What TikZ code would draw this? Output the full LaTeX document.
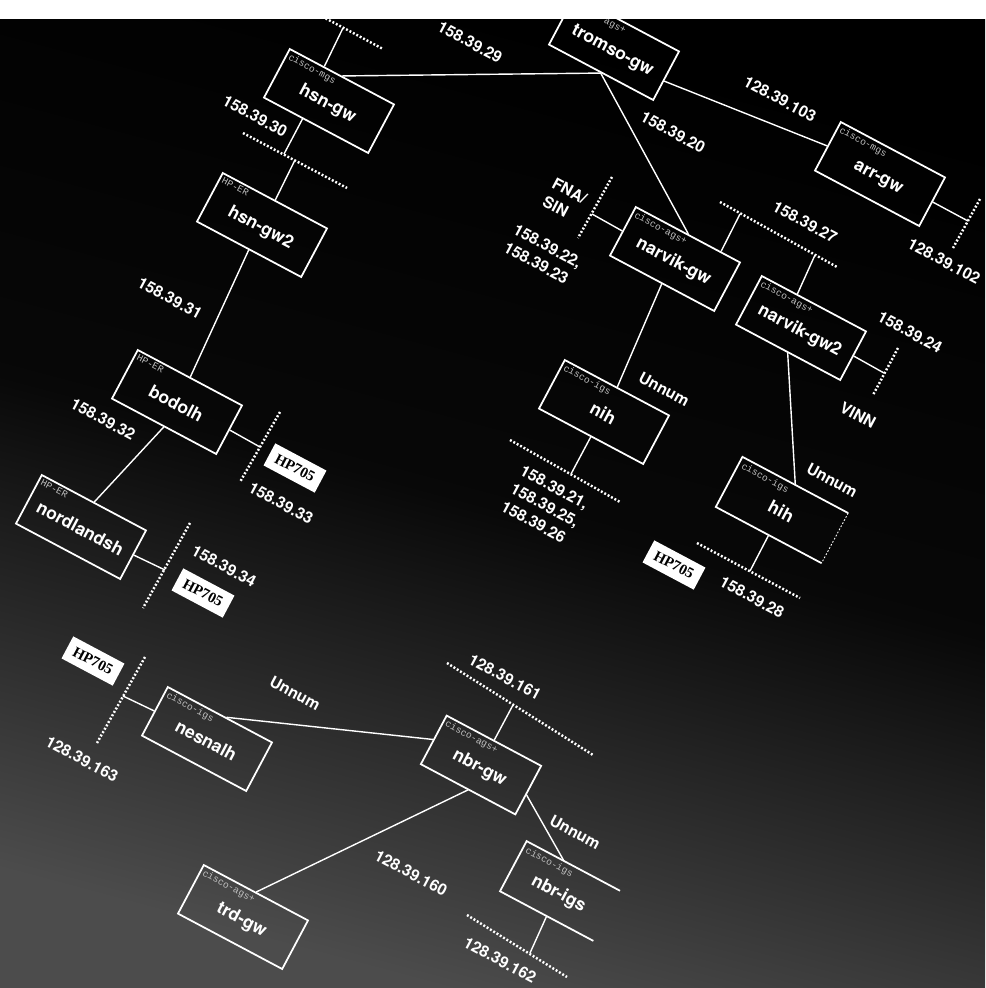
\documentclass[tikz,border=0pt]{standalone}
\usepackage{fontspec}
\setmainfont{TeX Gyre Heros}
\newfontfamily\typefont{Liberation Mono}
\newfontfamily\hpfont{Liberation Serif}
\usetikzlibrary{calc}

\begin{document}
\begin{tikzpicture}[x=0.2mm,y=-0.2mm,
  router/.style={draw=white,line width=1pt,rotate=-28,minimum width=23.6mm,minimum height=11mm,
    inner sep=0pt,text height=10pt,text depth=1pt,text=white,font=\fontsize{10}{12}\selectfont\bfseries},
  kind/.style={anchor=north west,rotate=-28,inner sep=2pt,text=white!75!black,
    font=\typefont\fontsize{5.5}{6}\selectfont},
  addr/.style={rotate=-28,text=white,inner sep=0pt,align=left,
    font=\fontsize{9}{11.5}\selectfont\bfseries},
  hp/.style={fill=white,rotate=-28,minimum width=11.6mm,minimum height=5mm,inner sep=0pt,
    font=\hpfont\bfseries\fontsize{8.5}{9}\selectfont},
  link/.style={white,line width=0.8pt},
  lan/.style={white,line width=1.4pt,dash pattern=on 1.1pt off 1.1pt}]
\useasboundingbox (0,0) rectangle (985,988);
\fill[white] (0,0) rectangle (985,988);
\shade[top color=black,bottom color=black!70!white,middle color=black!97!white,shading angle=-15]
  (0,19) rectangle (985,988);

\begin{scope}
\clip (0,19) rectangle (985,988);

% routers
\node[router,label={[kind]north west:cisco-mgs}] (hsn) at (329,101) {hsn-gw};
\node[router,label={[kind]north west:HP-ER}] (hsntwo) at (262,225) {hsn-gw2};
\node[router,label={[kind]north west:HP-ER}] (bodolh) at (177,402) {bodolh};
\node[router,label={[kind]north west:HP-ER}] (nordlandsh) at (81,527) {nordlandsh};
\node[router,label={[kind]north west:cisco-ags+}] (tromso) at (614,48) {tromso-gw};
\node[router,label={[kind]north west:cisco-mgs}] (arr) at (880,174) {arr-gw};
\node[router,label={[kind]north west:cisco-ags+}] (narvik) at (675,259) {narvik-gw};
\node[router,label={[kind]north west:cisco-ags+}] (narviktwo) at (801,328) {narvik-gw2};
\node[router,label={[kind]north west:cisco-igs}] (nih) at (604,412) {nih};
\node[router,draw=none,label={[kind]north west:cisco-igs}] (hih) at (782,510) {hih};
\node[router,label={[kind]north west:cisco-igs}] (nesnalh) at (207,739) {nesnalh};
\node[router,minimum width=21.4mm,label={[kind]north west:cisco-ags+}] (nbrgw) at (481,765) {nbr-gw};
\node[router,label={[kind]north west:cisco-ags+}] (trd) at (243,917) {trd-gw};
\node[router,draw=none,minimum width=20.8mm,label={[kind]north west:cisco-igs}] (nbrigs) at (560,891) {nbr-igs};
\draw[white,line width=1pt] (hih.north east) -- (hih.north west) -- (hih.south west) -- (hih.south east);
\draw[white,line width=0.5pt,dash pattern=on 1pt off 1pt] (hih.north east) -- (hih.south east);
\draw[white,line width=1pt] (nbrigs.north east) -- (nbrigs.north west) -- (nbrigs.south west) -- (nbrigs.south east);

% HP705 hosts
\node[hp] (hpa) at (295,468) {HP705};
\node[hp] (hpb) at (203,593) {HP705};
\node[hp] (hpc) at (93,661) {HP705};
\node[hp] (hpd) at (674,565) {HP705};

% links between routers
\draw[link] (hsn.north) -- (tromso.south) -- (narvik.north);
\draw[link] ($(tromso.north east)!0.6!(tromso.south east)$) -- (arr.west);
\draw[link] (hsntwo.south) -- (bodolh.north);
\draw[link] (bodolh.south) -- (nordlandsh.north);
\draw[link] (narvik.south) -- (nih.north);
\draw[link] (narviktwo.south) -- (hih.north);
\draw[link] ($(nesnalh.north west)!0.56!(nesnalh.north east)$) -- (nbrgw.west);
\draw[link] (nbrgw.south) -- (trd.north);
\draw[link] ($(nbrgw.north east)!0.59!(nbrgw.south east)$) -- ($(nbrigs.north west)!0.4!(nbrigs.north east)$);

% lan segments
\coordinate (stopa) at (312,11);   \coordinate (stopb) at (383,49);
\coordinate (s30a) at (243,133);   \coordinate (s30b) at (347,188);
\coordinate (s33a) at (280,412);   \coordinate (s33b) at (240,482);
\coordinate (s34a) at (190,523);   \coordinate (s34b) at (143,608);
\coordinate (s163a) at (145,657);  \coordinate (s163b) at (97,743);
\coordinate (s161a) at (447,663);  \coordinate (s161b) at (593,755);
\coordinate (s162a) at (467,915);  \coordinate (s162b) at (567,977);
\coordinate (sfnaa) at (612,177);  \coordinate (sfnab) at (578,238);
\coordinate (s27a) at (720,202);   \coordinate (s27b) at (837,267);
\coordinate (s24a) at (898,348);   \coordinate (s24b) at (873,395);
\coordinate (s102a) at (980,199);  \coordinate (s102b) at (953,248);
\coordinate (s21a) at (510,440);   \coordinate (s21b) at (620,502);
\coordinate (s28a) at (697,543);   \coordinate (s28b) at (800,598);
\foreach \s in {top,30,33,34,163,161,162,fna,27,24,102,21,28}
  \draw[lan] (s\s a) -- (s\s b);

% taps
\coordinate (ttop) at (343,28);
\coordinate (t30a) at (284,154);
\coordinate (t30b) at (295,160);
\coordinate (t33) at (260,447);
\coordinate (t34) at (165,570);
\coordinate (t163) at (123,696);
\coordinate (t161) at (513,705);
\coordinate (t162) at (530,953);
\coordinate (tfna) at (592,214);
\coordinate (t27a) at (740,214);
\coordinate (t27b) at (815,255);
\coordinate (t24) at (884,373);
\coordinate (t102) at (968,221);
\coordinate (t21) at (571,474);
\coordinate (t28) at (750,571);
\draw[link] ($(hsn.north west)!0.33!(hsn.north east)$) -- (ttop);
\draw[link] ($(hsn.south west)!0.375!(hsn.south east)$) -- (t30a);
\draw[link] (hsntwo.north) -- (t30b);
\draw[link] (bodolh.east) -- (t33);
\draw[link] (nordlandsh.east) -- (t34);
\draw[link] (nesnalh.west) -- (t163);
\draw[link] (nbrgw.north) -- (t161);
\draw[link] (nbrigs.south) -- (t162);
\draw[link] (narvik.west) -- (tfna);
\draw[link] ($(narvik.north west)!0.81!(narvik.north east)$) -- (t27a);
\draw[link] ($(narviktwo.north west)!0.34!(narviktwo.north east)$) -- (t27b);
\draw[link] (narviktwo.east) -- (t24);
\draw[link] (arr.east) -- (t102);
\draw[link] (nih.south) -- (t21);
\draw[link] (hih.south) -- (t28);

% addresses
\node[addr] (a29) at (470,42) {158.39.29};
\node[addr] (a30) at (255,116) {158.39.30};
\node[addr] (a31) at (170,298) {158.39.31};
\node[addr] (a32) at (103,419) {158.39.32};
\node[addr] (a33) at (281,503) {158.39.33};
\node[addr] (a34) at (224,566) {158.39.34};
\node[addr] (a163) at (82,759) {128.39.163};
\node[addr] (a161) at (505,677) {128.39.161};
\node[addr] (a160) at (411,873) {128.39.160};
\node[addr] (a162) at (500,960) {128.39.162};
\node[addr] (a103) at (780,99) {128.39.103};
\node[addr] (a20) at (673,132) {158.39.20};
\node[addr] (a102) at (944,261) {128.39.102};
\node[addr] (afna) at (565,200) {FNA/\\SIN};
\node[addr] (a2223) at (543,255) {158.39.22,\\158.39.23};
\node[addr] (a27) at (805,222) {158.39.27};
\node[addr] (a24) at (910,332) {158.39.24};
\node[addr] (avinn) at (858,415) {VINN};
\node[addr] (a212526) at (545,505) {158.39.21,\\158.39.25,\\158.39.26};
\node[addr] (a28) at (752,597) {158.39.28};
\node[addr] (uone) at (295,693) {Unnum};
\node[addr] (utwo) at (664,389) {Unnum};
\node[addr] (uthree) at (832,480) {Unnum};
\node[addr] (ufour) at (575,832) {Unnum};
\end{scope}
\end{tikzpicture}
\end{document}
